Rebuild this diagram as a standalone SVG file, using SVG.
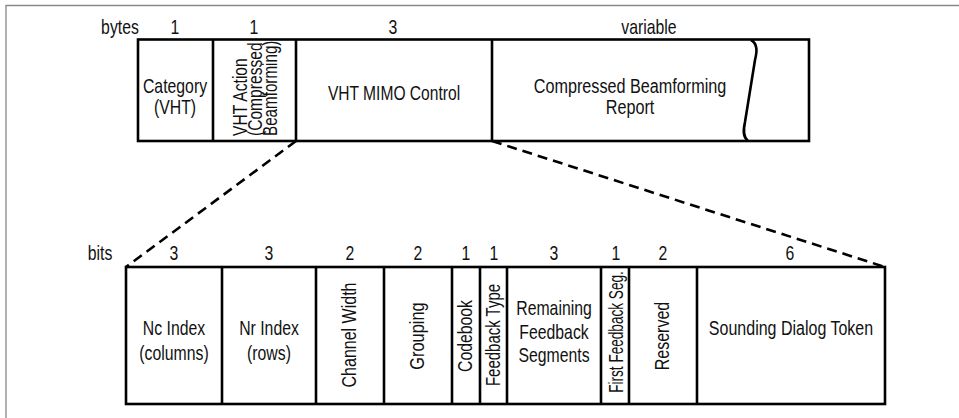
<svg xmlns="http://www.w3.org/2000/svg" width="959" height="418" viewBox="0 0 959 418">
<style>
text{font-family:"Liberation Sans",Arial,sans-serif;font-size:20px;fill:#111;text-anchor:middle}
.st{text-anchor:start}
.box{fill:#fff;stroke:#000;stroke-width:2.6}
.div{stroke:#000;stroke-width:2.6;fill:none}
.dash{stroke:#000;stroke-width:2.6;stroke-dasharray:10,6;fill:none}
.frame{stroke:#888;stroke-width:1.3;fill:none}
</style>
<rect width="959" height="418" fill="#fff"/>
<path class="frame" d="M6,418 V5.5 H959"/>
<g id="connectors">
<line class="dash" x1="296" y1="141" x2="126" y2="267"/>
<line class="dash" x1="492" y1="141" x2="885" y2="267"/>
</g>
<g id="bytes-row">
<text transform="translate(120,34) scale(.79,1)">bytes</text>
<text transform="translate(175,34) scale(.79,1)">1</text>
<text transform="translate(254,34) scale(.79,1)">1</text>
<text transform="translate(393,34) scale(.79,1)">3</text>
<text transform="translate(649,34) scale(.79,1)">variable</text>
</g>
<g id="top-frame">
<rect class="box" x="138" y="39.5" width="671" height="101.5"/>
</g>
<g id="category">
<line class="div" x1="213" y1="39.5" x2="213" y2="141"/>
<text transform="translate(175,93) scale(.79,1)">Category</text>
<text transform="translate(175,114) scale(.79,1)">(VHT)</text>
</g>
<g id="vht-action">
<line class="div" x1="296" y1="39.5" x2="296" y2="141"/>
<text class="st" transform="translate(247,136) rotate(-90) scale(.78,1)">VHT Action</text>
<text class="st" transform="translate(262,136) rotate(-90) scale(.78,1)">(Compressed</text>
<text class="st" transform="translate(277,136) rotate(-90) scale(.76,1)">Beamforming)</text>
</g>
<g id="vht-mimo-control">
<line class="div" x1="492" y1="39.5" x2="492" y2="141"/>
<text transform="translate(394,100) scale(.78,1)">VHT MIMO Control</text>
</g>
<g id="cbf-report">
<text transform="translate(630,93) scale(.81,1)">Compressed Beamforming</text>
<text transform="translate(630,114) scale(.81,1)">Report</text>
<path class="div" d="M751,40 C758,44 757,52 755,60 L745,122 C743,131 743,137 748,141"/>
</g>
<g id="bits-row">
<text transform="translate(100,260) scale(.79,1)">bits</text>
<text transform="translate(174,260) scale(.79,1)">3</text>
<text transform="translate(269,260) scale(.79,1)">3</text>
<text transform="translate(350,260) scale(.79,1)">2</text>
<text transform="translate(418,260) scale(.79,1)">2</text>
<text transform="translate(466,260) scale(.79,1)">1</text>
<text transform="translate(494,260) scale(.79,1)">1</text>
<text transform="translate(554,260) scale(.79,1)">3</text>
<text transform="translate(616,260) scale(.79,1)">1</text>
<text transform="translate(663,260) scale(.79,1)">2</text>
<text transform="translate(790,260) scale(.79,1)">6</text>
</g>
<g id="bottom-frame">
<rect class="box" x="126" y="267" width="759" height="137"/>
</g>
<g id="nc-index">
<text transform="translate(174,335) scale(.79,1)">Nc Index</text>
<text transform="translate(174,360) scale(.79,1)">(columns)</text>
</g>
<g id="nr-index">
<line class="div" x1="222" y1="267" x2="222" y2="404"/>
<text transform="translate(269,335) scale(.79,1)">Nr Index</text>
<text transform="translate(269,360) scale(.79,1)">(rows)</text>
</g>
<g id="channel-width">
<line class="div" x1="316" y1="267" x2="316" y2="404"/>
<text transform="translate(356,335) rotate(-90) scale(.8,1)">Channel Width</text>
</g>
<g id="grouping">
<line class="div" x1="384" y1="267" x2="384" y2="404"/>
<text transform="translate(424,336) rotate(-90) scale(.82,1)">Grouping</text>
</g>
<g id="codebook">
<line class="div" x1="452" y1="267" x2="452" y2="404"/>
<text transform="translate(472,336) rotate(-90) scale(.79,1)">Codebook</text>
</g>
<g id="feedback-type">
<line class="div" x1="480" y1="267" x2="480" y2="404"/>
<text transform="translate(500,335) rotate(-90) scale(.75,1)">Feedback Type</text>
</g>
<g id="remaining-feedback">
<line class="div" x1="507" y1="267" x2="507" y2="404"/>
<text transform="translate(554,315) scale(.79,1)">Remaining</text>
<text transform="translate(554,339) scale(.79,1)">Feedback</text>
<text transform="translate(554,362) scale(.79,1)">Segments</text>
</g>
<g id="first-feedback">
<line class="div" x1="601" y1="267" x2="601" y2="404"/>
<text transform="translate(623,332) rotate(-90) scale(.68,1)">First Feedback Seg.</text>
</g>
<g id="reserved">
<line class="div" x1="629" y1="267" x2="629" y2="404"/>
<text transform="translate(669,336) rotate(-90) scale(.8,1)">Reserved</text>
</g>
<g id="sounding-dialog-token">
<line class="div" x1="697" y1="267" x2="697" y2="404"/>
<text transform="translate(791,335) scale(.8,1)">Sounding Dialog Token</text>
</g>
</svg>
